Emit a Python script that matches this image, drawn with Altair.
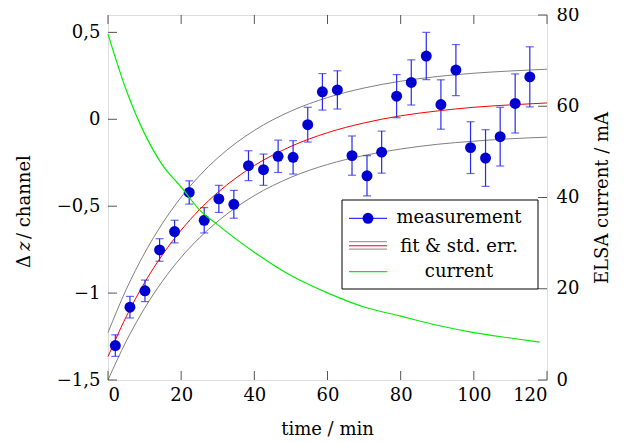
import altair as alt
import pandas as pd

# measurement
t_meas = [2.0, 6.0, 10.1, 14.1, 18.2, 22.2, 26.3, 30.3, 34.4, 38.4, 42.5, 46.5, 50.6, 54.6,
          58.6, 62.7, 66.7, 70.8, 74.8, 78.9, 82.9, 87.0, 91.0, 95.1, 99.1, 103.2, 107.2, 111.3, 115.3]
dz = [-1.302, -1.081, -0.987, -0.752, -0.646, -0.421, -0.581, -0.458, -0.489, -0.267, -0.290,
      -0.213, -0.219, -0.031, 0.158, 0.169, -0.209, -0.325, -0.189, 0.133, 0.212, 0.364, 0.085,
      0.283, -0.163, -0.223, -0.100, 0.091, 0.244]
dz_err = [0.062, 0.062, 0.062, 0.065, 0.065, 0.067, 0.073, 0.078, 0.080, 0.086, 0.090, 0.093,
          0.096, 0.100, 0.105, 0.110, 0.113, 0.116, 0.121, 0.124, 0.130, 0.136, 0.142, 0.147,
          0.149, 0.163, 0.169, 0.170, 0.173]

# fit & std. err.
t_fit = [0, 5, 10, 15, 20, 25, 30, 40, 50, 60, 70, 80, 90, 100, 110, 120]
fit = [-1.365, -1.135, -0.940, -0.776, -0.638, -0.520, -0.421, -0.266, -0.156, -0.077,
       -0.021, 0.020, 0.048, 0.069, 0.083, 0.094]
fit_hi = [-1.227, -0.978, -0.770, -0.595, -0.448, -0.325, -0.222, -0.064, 0.047, 0.125,
          0.180, 0.219, 0.246, 0.265, 0.278, 0.288]
fit_lo = [-1.500, -1.276, -1.087, -0.928, -0.794, -0.682, -0.587, -0.439, -0.334, -0.260,
          -0.208, -0.171, -0.144, -0.126, -0.112, -0.103]

# ELSA current
t_cur = [0, 5, 10, 15, 20, 25, 30, 40, 50, 60, 70, 80, 90, 100, 110, 118]
cur = [75.8, 63.5, 54.0, 47.0, 42.3, 37.3, 34.0, 28.0, 22.9, 19.1, 16.0, 14.0, 12.0, 10.4, 9.2, 8.3]

x_ticks = [0, 20, 40, 60, 80, 100, 120]
dz_ticks = [-1.5, -1, -0.5, 0, 0.5]
cur_ticks = [0, 20, 40, 60, 80]

FONT = "DejaVu Serif"
FS = 18
W, H = 439, 365

df_meas = pd.DataFrame({"t": t_meas, "dz": dz, "err": dz_err})
df_meas["lo"] = df_meas["dz"] - df_meas["err"]
df_meas["hi"] = df_meas["dz"] + df_meas["err"]
df_fit = pd.DataFrame({"t": t_fit, "fit": fit, "hi": fit_hi, "lo": fit_lo})
df_cur = pd.DataFrame({"t": t_cur, "cur": cur})

xs = alt.Scale(domain=[0, 120], nice=False, zero=False)
x_axis = alt.Axis(values=x_ticks, ticks=False, domain=False, grid=False, labelFont=FONT,
                  labelFontSize=FS, labelColor="#000", labelPadding=6, title=None)
X = alt.X("t:Q", scale=xs, axis=x_axis)

ys_l = alt.Scale(domain=[-1.5, 0.6], nice=False, zero=False)
yl_axis = alt.Axis(orient="left", values=dz_ticks, ticks=False, domain=False, grid=False,
                   labelFont=FONT, labelFontSize=FS, labelColor="#000", labelPadding=8,
                   labelExpr="replace(format(datum.value, '~g'), '.', ',')", title=None)
ys_r = alt.Scale(domain=[0, 80], nice=False, zero=False)
yr_axis = alt.Axis(orient="right", values=cur_ticks, ticks=False, domain=False, grid=False,
                   labelFont=FONT, labelFontSize=FS, labelColor="#000", labelPadding=9,
                   title=None)

BLUE = "#0000d0"
BAR = "#2a2aee"

base_fit = alt.Chart(df_fit)
lo_line = base_fit.mark_line(color="#808080", strokeWidth=1, interpolate="monotone").encode(
    x=X, y=alt.Y("lo:Q", scale=ys_l, axis=yl_axis))
hi_line = base_fit.mark_line(color="#808080", strokeWidth=1, interpolate="monotone").encode(
    x=X, y=alt.Y("hi:Q", scale=ys_l, axis=yl_axis))
fit_line = base_fit.mark_line(color="#ff0000", strokeWidth=1, interpolate="monotone").encode(
    x=X, y=alt.Y("fit:Q", scale=ys_l, axis=yl_axis))

base_m = alt.Chart(df_meas)
bars = base_m.mark_rule(color=BAR, strokeWidth=1.2).encode(
    x=X, y=alt.Y("lo:Q", scale=ys_l, axis=yl_axis), y2="hi:Q")
cap_lo = base_m.mark_tick(color=BAR, orient="horizontal", size=8, thickness=1.2).encode(
    x=X, y=alt.Y("lo:Q", scale=ys_l, axis=yl_axis))
cap_hi = base_m.mark_tick(color=BAR, orient="horizontal", size=8, thickness=1.2).encode(
    x=X, y=alt.Y("hi:Q", scale=ys_l, axis=yl_axis))
pts = base_m.mark_point(filled=True, shape="circle", size=120, color=BLUE, opacity=1).encode(
    x=X, y=alt.Y("dz:Q", scale=ys_l, axis=yl_axis))

TICKC = "#555555"
df_xt = pd.DataFrame({"v": x_ticks})
xt_bot = alt.Chart(df_xt).mark_rule(color=TICKC, strokeWidth=1).encode(
    x=alt.X("v:Q", scale=xs, axis=x_axis), y=alt.value(H), y2=alt.value(H - 9))
xt_top = alt.Chart(df_xt).mark_rule(color=TICKC, strokeWidth=1).encode(
    x=alt.X("v:Q", scale=xs, axis=x_axis), y=alt.value(0), y2=alt.value(9))
df_yt = pd.DataFrame({"v": dz_ticks})
yt_left = alt.Chart(df_yt).mark_rule(color=TICKC, strokeWidth=1).encode(
    y=alt.Y("v:Q", scale=ys_l, axis=yl_axis), x=alt.value(0), x2=alt.value(9))

one = alt.Data(values=[{"a": 1}])


def vtext(txt, x, y, **kw):
    return alt.Chart(one).mark_text(text=txt, font=FONT, fontSize=FS, color="#000", **kw).encode(
        x=alt.value(x), y=alt.value(y))


def vrule(x1, x2, y, color, sw=1.2):
    return alt.Chart(one).mark_rule(color=color, strokeWidth=sw).encode(
        x=alt.value(x1), x2=alt.value(x2), y=alt.value(y))


legend_box = alt.Chart(one).mark_rect(fill="white", stroke="#000", strokeWidth=1).encode(
    x=alt.value(234), x2=alt.value(430), y=alt.value(185), y2=alt.value(274))
leg = [
    legend_box,
    vrule(241, 279, 203.3, "#3333ff"),
    alt.Chart(one).mark_point(filled=True, shape="circle", size=120, color=BLUE, opacity=1).encode(
        x=alt.value(260), y=alt.value(203.3)),
    vrule(241, 279, 226.7, "#a0a0a0", 1.3),
    vrule(241, 279, 230.7, "#ff0000", 1.1),
    vrule(241, 279, 234.2, "#a0a0a0", 1.3),
    vrule(241, 279, 256.7, "#00ee00"),
    vtext("measurement", 351, 203.3, align="center", baseline="middle"),
    vtext("fit & std. err.", 351, 231.5, align="center", baseline="middle"),
    vtext("current", 351, 256.7, align="center", baseline="middle"),
]

titles = [
    vtext("time / min", 219.5, 415, align="center", baseline="middle"),
    vtext("Δ", -83, 253, align="left", baseline="middle", angle=270),
    vtext("z", -83, 236, align="left", baseline="middle", angle=270, fontStyle="italic"),
    vtext("/ channel", -83, 224, align="left", baseline="middle", angle=270),
    vtext("ELSA current / mA", 495, 183, align="center", baseline="middle", angle=270),
]

left = alt.layer(lo_line, hi_line, fit_line, bars, cap_lo, cap_hi, pts, xt_bot, xt_top, yt_left)

green = alt.Chart(df_cur).mark_line(color="#00ee00", strokeWidth=1.2, interpolate="monotone").encode(
    x=X, y=alt.Y("cur:Q", scale=ys_r, axis=yr_axis))
df_rt = pd.DataFrame({"v": cur_ticks})
yt_right = alt.Chart(df_rt).mark_rule(color=TICKC, strokeWidth=1).encode(
    y=alt.Y("v:Q", scale=ys_r, axis=yr_axis), x=alt.value(W - 9), x2=alt.value(W))
right = alt.layer(green, yt_right)

deco = alt.layer(*leg, *titles)

chart = alt.layer(left, right, deco).resolve_scale(y="independent").properties(
    width=W, height=H,
    autosize=alt.AutoSizeParams(type="none"),
    padding={"left": 100, "top": 7, "right": 71, "bottom": 65},
).configure_view(stroke="#000", strokeWidth=1).configure(background="white")

chart.save("out.html", embed_options={"renderer": "svg", "actions": False})
